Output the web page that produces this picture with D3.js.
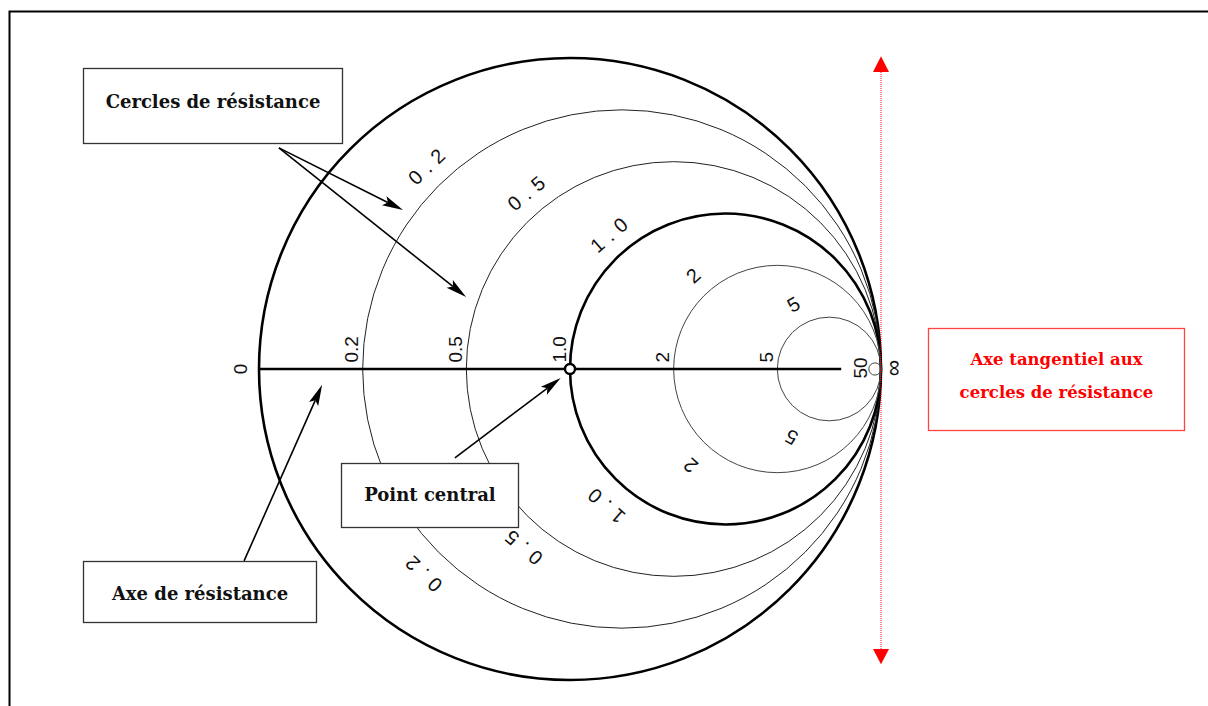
<!DOCTYPE html>
<html><head><meta charset="utf-8">
<script src="https://cdn.jsdelivr.net/npm/d3@7"></script>
<style>body{margin:0;background:#fff}svg{display:block}</style>
</head><body><svg id="c" width="1208" height="706"></svg>
<script>
// ---- data ----
const resistanceCircles = [0.2, 0.5, 1.0, 2, 5, 50];
const axisTickValues = [0, 0.2, 0.5, 1.0, 2, 5, 50, Infinity];
const axisTickLabels = ["0", "0.2", "0.5", "1.0", "2", "5", "50", "∞"];
const arcLabelValues = [0.2, 0.5, 1.0, 2, 5];
const arcLabelTexts = ["0.2", "0.5", "1.0", "2", "5"];
const arcLabelAngles = [134, 130, 131, 132, 119];
const axisEndGamma = 0.872;
// annotation arrows in reflection-coefficient units [x1,y1,x2,y2]
const arrowsCercles = [[-0.936, 0.711, -0.537, 0.511], [-0.936, 0.711, -0.334, 0.2315]];
const arrowCentral = [-0.370, -0.286, -0.030, -0.029];
const arrowAxe = [-1.048, -0.617, -0.797, -0.051];
const boxLabels = ["Cercles de résistance", "Point central", "Axe de résistance"];
const tangentLabel = ["Axe tangentiel aux", "cercles de résistance"];

// ---- scales ----
const x = d3.scaleLinear().domain([-1, 1]).range([259, 881]);
const y = d3.scaleLinear().domain([-1, 1]).range([680, 58]);
const R = x(1) - x(0);
const gamma = r => r === Infinity ? 1 : (r - 1) / (r + 1);

const svg = d3.select("#c");
svg.append("rect").attr("width", 1208).attr("height", 706).attr("fill", "#fff");
// frame
svg.append("path").attr("d", "M9.5,712 V11.5 H1215").attr("fill", "none").attr("stroke", "#000").attr("stroke-width", 2);

// outer circle
svg.append("circle").attr("cx", x(0)).attr("cy", y(0)).attr("r", R)
  .attr("fill", "none").attr("stroke", "#000").attr("stroke-width", 2.6);

// resistance circles
svg.selectAll("circle.res").data(resistanceCircles).join("circle").attr("class", "res")
  .attr("cx", r => x(r / (1 + r))).attr("cy", y(0)).attr("r", r => R / (1 + r))
  .attr("fill", "none")
  .attr("stroke", r => r === 1 ? "#000" : (r >= 2 ? "#444" : "#222"))
  .attr("stroke-width", r => r === 1 ? 2.6 : 1);

// resistance axis
svg.append("line").attr("x1", x(-1)).attr("x2", x(axisEndGamma)).attr("y1", y(0)).attr("y2", y(0))
  .attr("stroke", "#000").attr("stroke-width", 2.6);

// centre point
svg.append("circle").attr("cx", x(0)).attr("cy", y(0)).attr("r", 5)
  .attr("fill", "#fff").attr("stroke", "#000").attr("stroke-width", 2.4);

// axis tick labels
const sans = "'Liberation Sans', Arial, sans-serif";
axisTickValues.forEach((r, i) => {
  const g = gamma(r);
  let bx = x(g) - 4.5, by = y(0) - 6.5, anchor = "start", fs = 19;
  if (r === 0) { bx = x(g) - 12.5; by = y(0); anchor = "middle"; }
  if (r === 50) { bx = x(g) - 2; by = y(0) - 1; anchor = "middle"; }
  if (r === Infinity) { bx = x(g) + 20; by = y(0) - 1; anchor = "middle"; fs = 23; }
  svg.append("text").attr("transform", `translate(${bx},${by}) rotate(-90)`)
    .attr("text-anchor", anchor).attr("font-family", sans).attr("font-size", fs)
    .attr("fill", "#111").text(axisTickLabels[i]);
});

// arc labels (top and mirrored bottom)
arcLabelValues.forEach((r, i) => {
  const cx = x(r / (1 + r));
  [-1, 1].forEach(s => {
    const rad = R / (1 + r) + (s < 0 ? 22 : 26);
    const phi = s * arcLabelAngles[i];
    const a = phi * Math.PI / 180;
    const px = cx + rad * Math.cos(a), py = y(0) + rad * Math.sin(a);
    const multi = arcLabelTexts[i].length > 1;
    svg.append("text").attr("transform", `translate(${px},${py}) rotate(${phi + 90})`)
      .attr("text-anchor", "middle").attr("dominant-baseline", "central")
      .attr("font-family", sans).attr("font-size", 20).attr("fill", "#111")
      .attr("letter-spacing", multi ? 7 : 0)
      .attr("dx", multi ? 3.5 : 0)
      .text(arcLabelTexts[i]);
  });
});

// arrows
function arrow(a, color) {
  const x1 = x(a[0]), y1 = y(a[1]), x2 = x(a[2]), y2 = y(a[3]);
  const ang = Math.atan2(y2 - y1, x2 - x1), L = 21, W = 5;
  const bx = x2 - L * Math.cos(ang), by = y2 - L * Math.sin(ang);
  svg.append("line").attr("x1", x1).attr("y1", y1).attr("x2", bx + 4 * Math.cos(ang)).attr("y2", by + 4 * Math.sin(ang))
    .attr("stroke", color).attr("stroke-width", 1.6);
  const nx = -Math.sin(ang) * W, ny = Math.cos(ang) * W;
  svg.append("path").attr("d", `M${x2},${y2} L${bx + nx},${by + ny} L${bx + 0.2 * L * Math.cos(ang)},${by + 0.2 * L * Math.sin(ang)} L${bx - nx},${by - ny} Z`)
    .attr("fill", color);
}
arrowsCercles.forEach(a => arrow(a, "#000"));
arrow(arrowCentral, "#000");
arrow(arrowAxe, "#000");

// boxes
const serif = "'DejaVu Serif', serif";
function box(x0, y0, w, h, lines, ty, color, fs, stroke) {
  svg.append("rect").attr("x", x0).attr("y", y0).attr("width", w).attr("height", h)
    .attr("fill", "#fff").attr("stroke", stroke).attr("stroke-width", 1.3);
  lines.forEach((t, i) => {
    svg.append("text").attr("x", x0 + w / 2).attr("y", ty[i]).attr("text-anchor", "middle")
      .attr("dominant-baseline", "central").attr("font-family", serif).attr("font-weight", "bold")
      .attr("font-size", fs).attr("fill", color).text(t);
  });
}
box(83.5, 68.5, 259, 75, [boxLabels[0]], [101], "#111", 18, "#333");
box(341.5, 463.5, 177, 64, [boxLabels[1]], [494], "#111", 18, "#333");
box(83.5, 561.5, 233, 61, [boxLabels[2]], [593], "#111", 18, "#333");
box(928.5, 328.5, 256, 102, tangentLabel, [359, 392], "#f00", 16.5, "#f44");

// tangent axis (red dotted with arrowheads)
const tx = x(1);
svg.append("line").attr("x1", tx).attr("x2", tx).attr("y1", y(0.955)).attr("y2", y(-0.9))
  .attr("stroke", "#f00").attr("stroke-width", 1).attr("stroke-dasharray", "1,1");
svg.append("path").attr("d", `M${tx},${y(1.006)} L${tx - 8},${y(0.955)} L${tx + 8},${y(0.955)} Z`).attr("fill", "#f00");
svg.append("path").attr("d", `M${tx},${y(-0.949)} L${tx - 8},${y(-0.9)} L${tx + 8},${y(-0.9)} Z`).attr("fill", "#f00");
</script></body></html>
